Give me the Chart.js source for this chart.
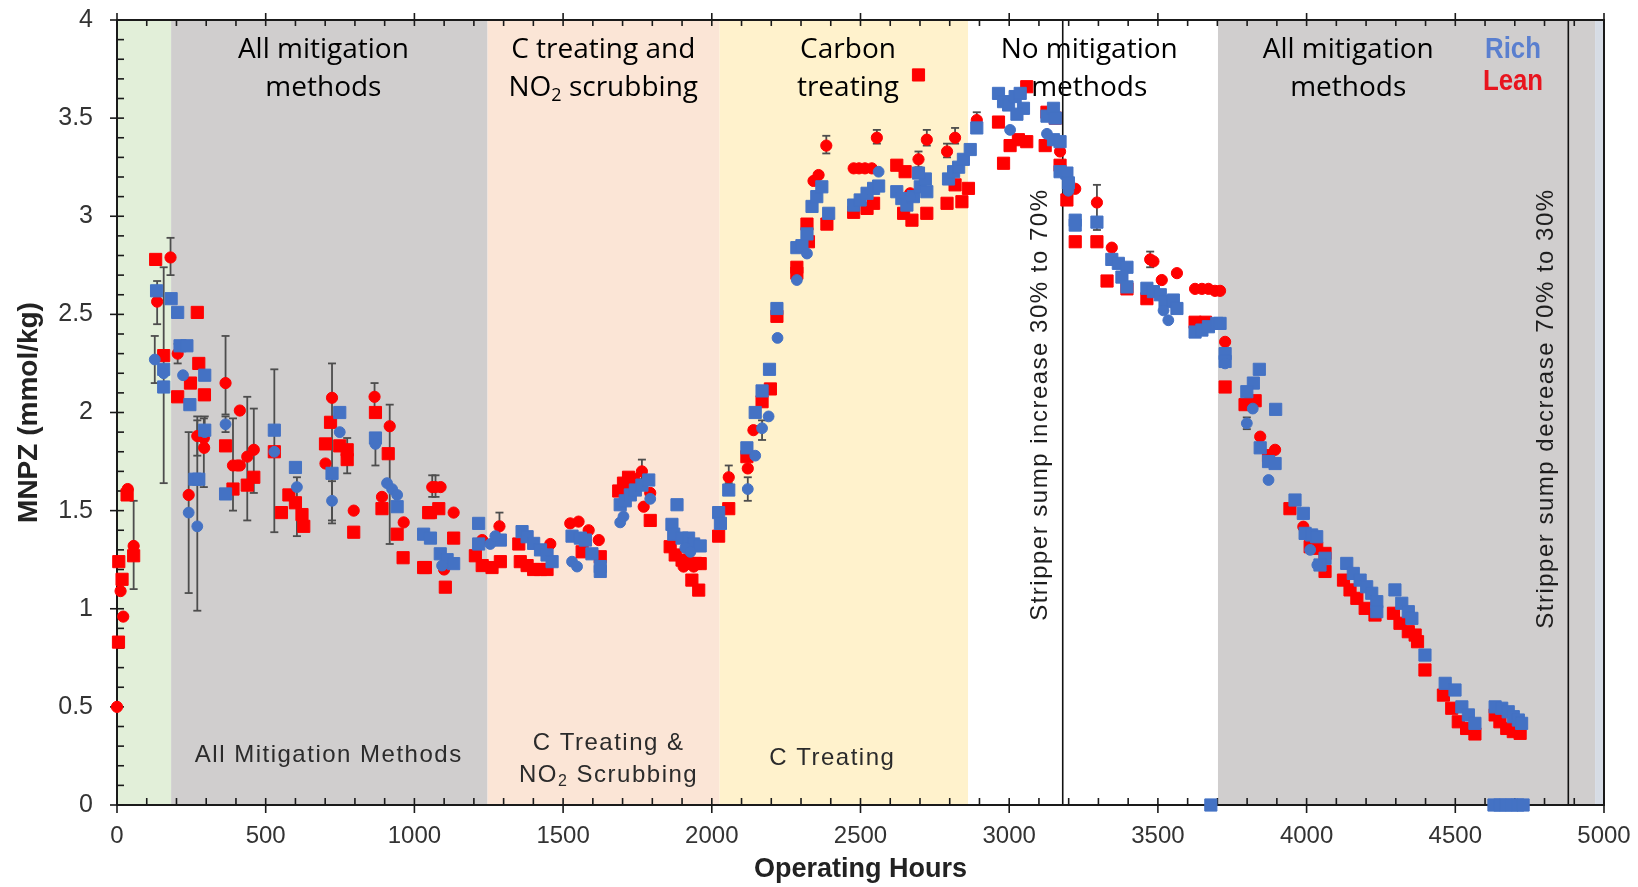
<!DOCTYPE html>
<html>
<head>
<meta charset="utf-8">
<title>MNPZ vs operating hours</title>
<script src="https://cdn.jsdelivr.net/npm/chart.js@4.4.1/dist/chart.umd.min.js"></script>
<style>
  html, body { margin: 0; padding: 0; background: #fff; }
  #wrap { width: 1638px; height: 887px; position: relative; }
</style>
</head>
<body>
<div id="wrap"><canvas id="mnpz"></canvas></div>
<script>
// MNPZ in rich and lean solvent over the campaign, [hours, mmol/kg]
const leanSquares = [
  [5, 0.83], [6, 1.24], [17, 1.15], [34, 1.58], [56, 1.27],
  [130, 2.78], [157, 2.29], [270, 2.51], [275, 2.25], [247, 2.15], [204, 2.08], [294, 2.09],
  [365, 1.83], [390, 1.61], [438, 1.63], [460, 1.67],
  [529, 1.80], [553, 1.49], [578, 1.58], [600, 1.54], [622, 1.48], [628, 1.42],
  [701, 1.84], [718, 1.95], [749, 1.83], [774, 1.81], [774, 1.76], [796, 1.39],
  [869, 2.00], [912, 1.79], [891, 1.51], [942, 1.38], [962, 1.26], [1037, 1.21], [1048, 1.49],
  [1031, 1.21], [1054, 1.49], [1082, 1.51], [1132, 1.36], [1104, 1.11],
  [1205, 1.27], [1228, 1.22], [1261, 1.21], [1289, 1.24],
  [1351, 1.33], [1356, 1.24], [1379, 1.22], [1401, 1.20], [1424, 1.20], [1446, 1.20],
  [1564, 1.29], [1625, 1.265],
  [1687, 1.60], [1703, 1.64], [1720, 1.67], [1737, 1.66], [1793, 1.45],
  [1860, 1.316], [1877, 1.274], [1900, 1.248], [1922, 1.231], [1945, 1.231], [1961, 1.23], [1933, 1.146], [1956, 1.095],
  [2023, 1.37], [2057, 1.51],
  [2118, 1.775], [2169, 2.055], [2197, 2.12], [2219, 2.49], [2286, 2.74], [2286, 2.71], [2320, 2.96], [2325, 2.87], [2387, 2.96],
  [2477, 3.02], [2522, 3.04], [2544, 3.066],
  [2622, 3.26], [2650, 3.227], [2645, 3.015], [2673, 2.98], [2723, 3.015], [2695, 3.72],
  [2791, 3.066], [2841, 3.074], [2863, 3.142], [2818, 3.16],
  [2964, 3.48], [2981, 3.27], [3003, 3.36], [3031, 3.39], [3059, 3.38], [3059, 3.66],
  [3127, 3.53], [3155, 3.50], [3121, 3.36], [3171, 3.26], [3194, 3.083], [3222, 2.87], [3295, 2.87],
  [3329, 2.67], [3396, 2.63], [3463, 2.58], [3625, 2.46], [3660, 2.46], [3726, 2.13],
  [3793, 2.04], [3827, 2.06], [3872, 1.78], [3944, 1.51], [4012, 1.316], [4034, 1.308], [4062, 1.282], [4062, 1.19],
  [4124, 1.146], [4146, 1.096], [4169, 1.053], [4197, 1.002], [4230, 0.968],
  [4292, 0.977], [4314, 0.926], [4342, 0.883], [4365, 0.866], [4373, 0.832], [4398, 0.688],
  [4460, 0.56], [4488, 0.493], [4510, 0.424], [4538, 0.39], [4566, 0.362],
  [4634, 0.459], [4650, 0.424], [4673, 0.39], [4695, 0.374], [4718, 0.365]
];

// [hours, mmol/kg, error below, error above]
const leanCircles = [
  [0, 0.50, 0, 0], [12, 1.09, 0, 0], [21, 0.96, 0, 0], [36, 1.61, 0, 0], [56, 1.32, 0.22, 0.23],
  [180, 2.79, 0.09, 0.10], [135, 2.565, 0.115, 0.105], [204, 2.30, 0.05, 0.05],
  [270, 1.88, 0.1, 0.1], [292, 1.87, 0.25, 0.10], [293, 1.82, 0, 0], [241, 1.58, 0.50, 0.32],
  [365, 2.15, 0.16, 0.24], [390, 1.73, 0.23, 0.24], [404, 1.73, 0, 0], [413, 1.73, 0, 0], [413, 2.01, 0, 0],
  [438, 1.775, 0.325, 0.305], [460, 1.81, 0.22, 0.21],
  [701, 1.74, 0, 0], [723, 2.075, 0.64, 0.175], [774, 1.78, 0.09, 0.09], [796, 1.50, 0, 0],
  [866, 2.08, 0.06, 0.07], [917, 1.93, 0.60, 0.11], [891, 1.57, 0, 0], [964, 1.44, 0, 0],
  [1060, 1.62, 0.05, 0.06], [1071, 1.62, 0.05, 0.06], [1088, 1.62, 0, 0], [1132, 1.49, 0, 0], [1100, 1.20, 0, 0],
  [1228, 1.35, 0, 0], [1286, 1.42, 0.05, 0.07], [1457, 1.33, 0, 0],
  [1524, 1.435, 0, 0], [1552, 1.444, 0, 0], [1586, 1.40, 0, 0], [1620, 1.35, 0, 0],
  [1765, 1.70, 0.04, 0.06], [1771, 1.52, 0, 0], [1793, 1.59, 0, 0],
  [1905, 1.215, 0, 0], [1939, 1.215, 0, 0],
  [2057, 1.67, 0.03, 0.06], [2121, 1.715, 0, 0], [2140, 1.91, 0, 0],
  [2342, 3.18, 0, 0], [2359, 3.21, 0, 0], [2385, 3.36, 0.04, 0.05],
  [2477, 3.244, 0, 0], [2495, 3.244, 0, 0], [2515, 3.244, 0, 0], [2538, 3.244, 0, 0], [2555, 3.40, 0.03, 0.04],
  [2667, 3.117, 0, 0], [2695, 3.29, 0.04, 0.04], [2723, 3.39, 0.03, 0.05],
  [2791, 3.33, 0.03, 0.04], [2818, 3.40, 0.03, 0.05], [2891, 3.49, 0.02, 0.04],
  [3171, 3.33, 0, 0], [3222, 3.14, 0, 0], [3295, 3.07, 0.14, 0.09],
  [3345, 2.84, 0, 0], [3474, 2.78, 0.04, 0.04], [3485, 2.77, 0, 0], [3513, 2.675, 0, 0], [3564, 2.71, 0, 0],
  [3625, 2.63, 0, 0], [3648, 2.63, 0, 0], [3670, 2.63, 0, 0], [3692, 2.62, 0, 0], [3709, 2.62, 0, 0], [3726, 2.36, 0, 0],
  [3800, 2.05, 0, 0], [3820, 2.05, 0, 0], [3844, 1.877, 0, 0], [3894, 1.81, 0, 0], [3989, 1.418, 0, 0]
];

const richSquares = [
  [133, 2.62], [157, 2.22], [157, 2.13], [182, 2.58], [204, 2.51], [212, 2.34], [235, 2.34], [295, 2.19],
  [245, 2.04], [295, 1.91], [262, 1.66], [275, 1.66],
  [365, 1.585], [529, 1.91], [600, 1.72], [749, 2.0], [723, 1.69], [869, 1.87], [942, 1.52], [1031, 1.38], [1054, 1.36],
  [1087, 1.28], [1110, 1.25], [1132, 1.23], [1216, 1.435], [1216, 1.33], [1289, 1.35],
  [1362, 1.393], [1379, 1.367], [1401, 1.333], [1424, 1.30], [1446, 1.274], [1463, 1.24],
  [1530, 1.37], [1558, 1.36], [1575, 1.35], [1597, 1.28], [1625, 1.215], [1625, 1.19],
  [1692, 1.53], [1709, 1.55], [1726, 1.58], [1743, 1.605], [1765, 1.63], [1788, 1.656],
  [1883, 1.53], [1866, 1.43], [1872, 1.38], [1900, 1.36], [1922, 1.36], [1939, 1.33], [1961, 1.32],
  [2023, 1.49], [2029, 1.435], [2057, 1.605],
  [2118, 1.82], [2146, 2.00], [2169, 2.11], [2194, 2.22], [2219, 2.53],
  [2286, 2.84], [2303, 2.85], [2320, 2.91], [2337, 3.05], [2353, 3.10], [2370, 3.15], [2393, 3.015],
  [2477, 3.057], [2499, 3.083], [2522, 3.117], [2544, 3.142], [2561, 3.154],
  [2622, 3.125], [2639, 3.09], [2656, 3.057], [2678, 3.10], [2701, 3.15], [2718, 3.19], [2723, 3.125], [2695, 3.22],
  [2796, 3.19], [2813, 3.227], [2830, 3.25], [2846, 3.29], [2869, 3.34], [2891, 3.45],
  [2964, 3.626], [2981, 3.584], [2998, 3.567], [3020, 3.61], [3037, 3.626], [3048, 3.55], [3026, 3.52],
  [3127, 3.51], [3149, 3.55], [3155, 3.50], [3149, 3.39], [3171, 3.38], [3171, 3.227], [3194, 3.22], [3199, 3.17],
  [3222, 2.98], [3222, 2.955], [3295, 2.97],
  [3345, 2.78], [3367, 2.76], [3396, 2.74], [3379, 2.69], [3396, 2.64],
  [3463, 2.633], [3485, 2.616], [3508, 2.60], [3524, 2.565], [3552, 2.573], [3564, 2.53],
  [3625, 2.41], [3648, 2.42], [3670, 2.437], [3698, 2.454], [3709, 2.454],
  [3726, 2.30], [3726, 2.26], [3678, 0],
  [3841, 2.22], [3821, 2.15], [3799, 2.106], [3896, 2.016], [3844, 1.82], [3872, 1.75], [3894, 1.74],
  [3961, 1.554], [3989, 1.486], [3995, 1.384], [4017, 1.376], [4034, 1.367], [4062, 1.257], [4045, 1.223],
  [4135, 1.231], [4157, 1.18], [4180, 1.146], [4202, 1.112], [4219, 1.079], [4236, 1.036], [4236, 0.985],
  [4297, 1.096], [4320, 1.028], [4342, 0.985], [4354, 0.951], [4398, 0.764],
  [4466, 0.62], [4499, 0.586], [4522, 0.50], [4544, 0.459], [4566, 0.416],
  [4634, 0.50], [4656, 0.493], [4678, 0.475], [4695, 0.45], [4712, 0.433], [4723, 0.416],
  [4630, 0], [4650, 0], [4670, 0], [4690, 0], [4710, 0], [4728, 0]
];

const richCircles = [
  [127, 2.27, 0.12, 0.12], [157, 2.2, 0.56, 0.54], [222, 2.19, 0, 0], [241, 1.49, 0, 0], [270, 1.42, 0.43, 0.54],
  [295, 1.9, 0.08, 0.08], [365, 1.94, 0.04, 0.04], [529, 1.80, 0.41, 0.42], [605, 1.62, 0.25, 0.05],
  [749, 1.90, 0, 0], [723, 1.55, 0.1, 0.1], [869, 1.84, 0.11, 0.05],
  [908, 1.64, 0, 0], [925, 1.61, 0, 0], [942, 1.58, 0, 0],
  [1093, 1.22, 0, 0], [1255, 1.33, 0, 0], [1272, 1.37, 0, 0],
  [1530, 1.24, 0, 0], [1547, 1.215, 0, 0], [1692, 1.44, 0, 0], [1703, 1.47, 0, 0], [1793, 1.56, 0, 0],
  [1911, 1.31, 0, 0], [1928, 1.29, 0, 0],
  [2121, 1.61, 0.06, 0.06], [2146, 1.78, 0, 0], [2169, 1.92, 0.06, 0.04], [2191, 1.98, 0, 0],
  [2221, 2.38, 0, 0], [2286, 2.675, 0, 0], [2320, 2.81, 0, 0],
  [2561, 3.227, 0, 0], [2667, 3.10, 0, 0], [3003, 3.44, 0, 0], [3127, 3.42, 0, 0], [3199, 3.13, 0, 0],
  [3519, 2.52, 0, 0], [3535, 2.47, 0, 0],
  [3726, 2.25, 0, 0], [3819, 2.02, 0, 0], [3799, 1.945, 0.03, 0.03], [3872, 1.656, 0, 0],
  [4012, 1.30, 0, 0], [4036, 1.223, 0, 0]
];

// operating phases (hour boundaries) and stripper sump changes
const phaseEdges = [0, 182, 1246, 2026, 2862, 3702, 4970, 5000];
const phaseFills = ['#e2efd9', '#d0cece', '#fbe5d6', '#fff2cc', '#ffffff', '#d0cece', '#d6dce5'];
const sumpChanges = [3180, 4880];

const RICH = '#4472c4';
const LEAN = '#ff0000';
const ARIAL = '"Liberation Sans", Arial, sans-serif';
const CALIBRI = '"Open Sans", Lato, sans-serif';

// labels placed in data units (hours, mmol/kg)
const phaseTitles = [
  { h: 694, lines: ['All mitigation', 'methods'] },
  { h: 1635, lines: ['C treating and', ['NO', { sub: '2' }, ' scrubbing']] },
  { h: 2458, lines: ['Carbon', 'treating'] },
  { h: 3269, lines: ['No mitigation', 'methods'] },
  { h: 4140, lines: ['All mitigation', 'methods'] }
];
const phaseCaptions = [
  { h: 712, v: 0.255, lines: ['All Mitigation Methods'] },
  { h: 1653, v: 0.235, lines: ['C Treating &', ['NO', { sub: '2' }, ' Scrubbing']] },
  { h: 2405, v: 0.24, lines: ['C Treating'] }
];
const sumpNotes = [
  { h: 3104, v: 2.04, text: 'Stripper sump increase 30% to 70%' },
  { h: 4805, v: 2.02, text: 'Stripper sump decrease 70% to 30%' }
];

const toPts = arr => arr.map(p => ({ x: p[0], y: p[1] }));

// draws a line made of plain strings and {sub} runs, centred on cx
function drawRuns(ctx, runs, cx, cy, size, family, weight) {
  const parts = typeof runs === 'string' ? [runs] : runs;
  const mainFont = `${weight || 'normal'} ${size}px ${family}`;
  const subFont = `${weight || 'normal'} ${Math.round(size * 0.65)}px ${family}`;
  let total = 0;
  parts.forEach(p => {
    ctx.font = typeof p === 'string' ? mainFont : subFont;
    total += ctx.measureText(typeof p === 'string' ? p : p.sub).width;
  });
  let x = cx - total / 2;
  ctx.textAlign = 'left';
  parts.forEach(p => {
    if (typeof p === 'string') {
      ctx.font = mainFont;
      ctx.fillText(p, x, cy);
      x += ctx.measureText(p).width;
    } else {
      ctx.font = subFont;
      ctx.fillText(p.sub, x, cy + size * 0.28);
      x += ctx.measureText(p.sub).width;
    }
  });
}

function segment(ctx, x1, y1, x2, y2) {
  ctx.beginPath();
  ctx.moveTo(x1, y1);
  ctx.lineTo(x2, y2);
  ctx.stroke();
}

// condensed bold label, squeezed horizontally around (x, y)
function narrowText(ctx, text, x, y, color) {
  ctx.save();
  ctx.translate(x, y);
  ctx.scale(0.86, 1);
  ctx.font = `bold 30px ${ARIAL}`;
  ctx.textAlign = 'center';
  ctx.fillStyle = color;
  ctx.fillText(text, 0, 0);
  ctx.restore();
}

function drawErrorBars(chart, index, rows) {
  const { ctx } = chart;
  const ay = chart.scales.y;
  const meta = chart.getDatasetMeta(index);
  ctx.strokeStyle = '#4d4d4d';
  ctx.lineWidth = 1.8;
  rows.forEach((r, i) => {
    if (!r[2] && !r[3]) return;
    const px = meta.data[i].x;
    const top = ay.getPixelForValue(r[1] + r[3]);
    const bot = ay.getPixelForValue(r[1] - r[2]);
    segment(ctx, px, top, px, bot);
    segment(ctx, px - 4, top, px + 4, top);
    segment(ctx, px - 4, bot, px + 4, bot);
  });
}

// background phases, sump lines, notes, error bars and the axis frame
const backdrop = {
  id: 'backdrop',
  beforeDatasetsDraw(chart) {
    const { ctx, chartArea: a } = chart;
    const ax = chart.scales.x, ay = chart.scales.y;
    ctx.save();

    for (let i = 0; i < phaseFills.length; i++) {
      const x1 = ax.getPixelForValue(phaseEdges[i]);
      const x2 = ax.getPixelForValue(phaseEdges[i + 1]);
      ctx.fillStyle = phaseFills[i];
      ctx.fillRect(x1, a.top, x2 - x1, a.bottom - a.top);
    }

    ctx.textBaseline = 'middle';

    // phase titles across the top
    ctx.fillStyle = '#000';
    phaseTitles.forEach(t => {
      const cx = ax.getPixelForValue(t.h);
      t.lines.forEach((ln, k) => {
        drawRuns(ctx, ln, cx, ay.getPixelForValue(3.847 - k * 0.193), 28, CALIBRI);
      });
    });

    // captions near the bottom
    ctx.fillStyle = '#2b2b2b';
    ctx.letterSpacing = '1.5px';
    phaseCaptions.forEach(t => {
      const cx = ax.getPixelForValue(t.h);
      const n = t.lines.length;
      t.lines.forEach((ln, k) => {
        const v = t.v + ((n - 1) / 2 - k) * 0.163;
        drawRuns(ctx, ln, cx, ay.getPixelForValue(v), 24, ARIAL);
      });
    });

    // vertical notes beside the sump changes
    ctx.fillStyle = '#1e1e1e';
    sumpNotes.forEach(t => {
      ctx.save();
      ctx.translate(ax.getPixelForValue(t.h), ay.getPixelForValue(t.v));
      ctx.rotate(-Math.PI / 2);
      ctx.font = `24px ${ARIAL}`;
      ctx.textAlign = 'center';
      ctx.fillText(t.text, 0, 0);
      ctx.restore();
    });
    ctx.letterSpacing = '0px';

    // series names
    narrowText(ctx, 'Rich', ax.getPixelForValue(4694), ay.getPixelForValue(3.847), '#5a7fcf');
    narrowText(ctx, 'Lean', ax.getPixelForValue(4694), ay.getPixelForValue(3.684), '#e8141e');

    ctx.strokeStyle = '#111';
    ctx.lineWidth = 1.6;
    sumpChanges.forEach(h => {
      const px = ax.getPixelForValue(h);
      segment(ctx, px, a.top, px, a.bottom);
    });

    // frame with ticks: majors cross the axis, minors point inward
    ctx.strokeStyle = '#1a1a1a';
    ctx.lineWidth = 2;
    ctx.strokeRect(a.left, a.top, a.right - a.left, a.bottom - a.top);
    ctx.lineWidth = 1.6;
    for (let h = 0; h <= 5000; h += 100) {
      const px = ax.getPixelForValue(h);
      const major = h % 500 === 0;
      segment(ctx, px, a.bottom - 7, px, major ? a.bottom + 8 : a.bottom);
      segment(ctx, px, a.top + 6, px, major ? a.top - 7 : a.top);
    }
    for (let k = 0; k <= 40; k++) {
      const py = ay.getPixelForValue(k / 10);
      segment(ctx, a.left + 7, py, k % 5 === 0 ? a.left - 7 : a.left, py);
    }

    drawErrorBars(chart, 1, leanCircles);
    drawErrorBars(chart, 3, richCircles);
    ctx.restore();
  }
};

function series(label, rows, color, style, radius, order) {
  return {
    label,
    data: toPts(rows),
    pointStyle: style,
    pointRadius: radius,
    pointBackgroundColor: color,
    pointBorderColor: color,
    pointBorderWidth: 1,
    order,
    clip: false
  };
}

// keep the plot box fixed: scales ask for no extra edge room
function noEdgePadding(s) {
  s.paddingTop = 0;
  s.paddingBottom = 0;
  s.paddingLeft = 0;
  s.paddingRight = 0;
}

new Chart(document.getElementById('mnpz'), {
  type: 'scatter',
  data: {
    datasets: [
      series('Lean', leanSquares, LEAN, 'rect', 8.6, 3),
      series('Lean', leanCircles, LEAN, 'circle', 5.6, 2),
      series('Rich', richSquares, RICH, 'rect', 8.6, 1),
      series('Rich', richCircles, RICH, 'circle', 5.4, 0)
    ]
  },
  options: {
    responsive: true,
    maintainAspectRatio: false,
    animation: false,
    events: [],
    layout: { padding: { left: 0, right: 34, top: 20, bottom: 0 } },
    plugins: { legend: { display: false }, tooltip: { enabled: false } },
    scales: {
      x: {
        type: 'linear',
        min: 0,
        max: 5000,
        border: { display: false },
        grid: { display: false, drawTicks: false },
        ticks: {
          stepSize: 500,
          padding: 17,
          maxRotation: 0,
          autoSkip: false,
          color: '#333',
          font: { family: ARIAL, size: 24 },
          callback: v => String(v)
        },
        title: {
          display: true,
          text: 'Operating Hours',
          color: '#222',
          font: { family: ARIAL, size: 27, weight: 'bold' },
          padding: { top: 0, bottom: 1 }
        },
        afterFit: s => { s.height = 82; noEdgePadding(s); }
      },
      y: {
        type: 'linear',
        min: 0,
        max: 4,
        border: { display: false },
        grid: { display: false, drawTicks: false },
        ticks: {
          stepSize: 0.5,
          padding: 24,
          color: '#333',
          font: { family: ARIAL, size: 25 },
          callback: v => String(v)
        },
        title: {
          display: true,
          text: 'MNPZ (mmol/kg)',
          color: '#222',
          font: { family: ARIAL, size: 28, weight: 'bold' },
          padding: { top: 12, bottom: 0 }
        },
        afterFit: s => { s.width = 117; noEdgePadding(s); }
      }
    }
  },
  plugins: [backdrop]
});
</script>
</body>
</html>
